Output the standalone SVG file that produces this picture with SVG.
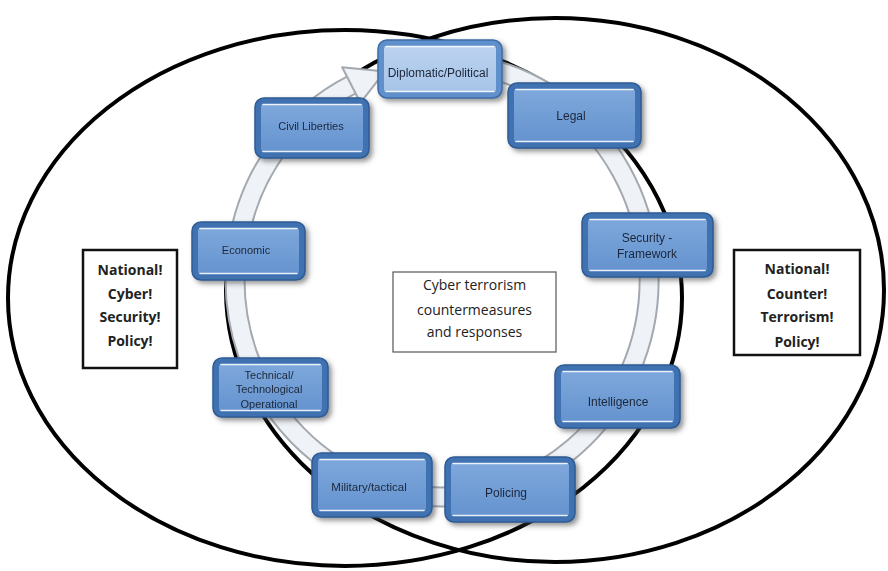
<svg xmlns="http://www.w3.org/2000/svg" width="888" height="571" viewBox="0 0 888 571">
  <defs>
    <filter id="shadow" x="-20%" y="-20%" width="140%" height="150%">
      <feDropShadow dx="3" dy="3" stdDeviation="2.5" flood-color="#404040" flood-opacity="0.55"/>
    </filter>
    <linearGradient id="panel" x1="0" y1="0" x2="0" y2="1">
      <stop offset="0" stop-color="#7ea8dc"/>
      <stop offset="1" stop-color="#6593cf"/>
    </linearGradient>
    <linearGradient id="panelLight" x1="0" y1="0" x2="0" y2="1">
      <stop offset="0" stop-color="#bcd3ef"/>
      <stop offset="1" stop-color="#a6c3e8"/>
    </linearGradient>
    <style>
      .ell { fill: none; stroke: #000; stroke-width: 4; }
      .ring-edge { fill: none; stroke: #a3a9b0; stroke-width: 21; }
      .ring-body { fill: none; stroke: #eff2f6; stroke-width: 17; }
      .frame { fill: #3f72b2; stroke: #2d5b94; stroke-width: 1.5; }
      .frame-light { fill: #5f90cb; stroke: #3d6ca6; stroke-width: 1.5; }
      .panel { fill: url(#panel); }
      .panel-light { fill: url(#panelLight); }
      .gloss { stroke: #ffffff; stroke-width: 1.6; stroke-opacity: 0.85; stroke-linecap: round; }
      .lbl { font-family: "Liberation Sans", Arial, sans-serif; fill: #1c273a; text-anchor: middle; }
      .side { fill: #fff; stroke: #111; stroke-width: 2.5; }
      .side-txt { font-family: "Open Sans", "Liberation Sans", sans-serif; font-weight: bold; font-size: 14px; fill: #222; text-anchor: middle; }
      .center-txt { font-family: "Open Sans", "Liberation Sans", sans-serif; font-size: 14px; fill: #222; text-anchor: middle; }
    </style>
  </defs>

  <rect width="888" height="571" fill="#ffffff"/>

  <!-- two overlapping policy domains -->
  <g id="domains">
    <ellipse class="ell" cx="345" cy="298" rx="337" ry="268"/>
    <ellipse class="ell" cx="555" cy="290" rx="329" ry="272"/>
  </g>

  <!-- circular cycle arrow linking the measures -->
  <g id="connectors">
    <path class="ring-edge" d="M460,63.8 A207,217 0 1 1 351.3,85"/>
    <path class="ring-body" d="M460,63.8 A207,217 0 1 1 351.3,85"/>
    <polygon points="342.2,67.2 384.9,71.4 360.4,102.8" fill="#eff2f6" stroke="#a3a9b0" stroke-width="2" stroke-linejoin="round"/>
  </g>

  <!-- measure nodes -->
  <g id="node-civil" filter="url(#shadow)">
    <rect class="frame" x="255" y="98" width="114" height="60" rx="9"/>
    <rect class="panel" x="261" y="104" width="102" height="48" rx="3"/>
    <line class="gloss" x1="263" y1="104.5" x2="361" y2="104.5"/>
    <line class="gloss" x1="263" y1="151.5" x2="361" y2="151.5"/>
    <text class="lbl" x="311" y="130" font-size="11">Civil Liberties</text>
  </g>

  <g id="node-diplomatic" filter="url(#shadow)">
    <rect class="frame-light" x="378" y="40" width="124" height="58" rx="9"/>
    <rect class="panel-light" x="384" y="46" width="112" height="46" rx="3"/>
    <line class="gloss" x1="386" y1="46.5" x2="494" y2="46.5"/>
    <line class="gloss" x1="386" y1="91.5" x2="494" y2="91.5"/>
    <text class="lbl" x="438" y="77" font-size="12">Diplomatic/Political</text>
  </g>

  <g id="node-legal" filter="url(#shadow)">
    <rect class="frame" x="508" y="83" width="133" height="65" rx="9"/>
    <rect class="panel" x="514" y="89" width="121" height="53" rx="3"/>
    <line class="gloss" x1="516" y1="89.5" x2="633" y2="89.5"/>
    <line class="gloss" x1="516" y1="141.5" x2="633" y2="141.5"/>
    <text class="lbl" x="571" y="120" font-size="12">Legal</text>
  </g>

  <g id="node-security" filter="url(#shadow)">
    <rect class="frame" x="582" y="213" width="131" height="64" rx="9"/>
    <rect class="panel" x="588" y="219" width="119" height="52" rx="3"/>
    <line class="gloss" x1="590" y1="219.5" x2="705" y2="219.5"/>
    <line class="gloss" x1="590" y1="270.5" x2="705" y2="270.5"/>
    <text class="lbl" x="647" y="242" font-size="12">Security -</text>
    <text class="lbl" x="647" y="258" font-size="12">Framework</text>
  </g>

  <g id="node-economic" filter="url(#shadow)">
    <rect class="frame" x="192" y="222" width="113" height="58" rx="9"/>
    <rect class="panel" x="198" y="228" width="101" height="46" rx="3"/>
    <line class="gloss" x1="200" y1="228.5" x2="297" y2="228.5"/>
    <line class="gloss" x1="200" y1="273.5" x2="297" y2="273.5"/>
    <text class="lbl" x="246" y="254" font-size="11">Economic</text>
  </g>

  <g id="node-technical" filter="url(#shadow)">
    <rect class="frame" x="213" y="358" width="115" height="59" rx="9"/>
    <rect class="panel" x="219" y="364" width="103" height="47" rx="3"/>
    <line class="gloss" x1="221" y1="364.5" x2="320" y2="364.5"/>
    <line class="gloss" x1="221" y1="410.5" x2="320" y2="410.5"/>
    <text class="lbl" x="269" y="379" font-size="11">Technical/</text>
    <text class="lbl" x="269" y="393" font-size="11">Technological</text>
    <text class="lbl" x="269" y="408" font-size="11">Operational</text>
  </g>

  <g id="node-intelligence" filter="url(#shadow)">
    <rect class="frame" x="555" y="365" width="125" height="63" rx="9"/>
    <rect class="panel" x="561" y="371" width="113" height="51" rx="3"/>
    <line class="gloss" x1="563" y1="371.5" x2="672" y2="371.5"/>
    <line class="gloss" x1="563" y1="421.5" x2="672" y2="421.5"/>
    <text class="lbl" x="618" y="406" font-size="12">Intelligence</text>
  </g>

  <g id="node-military" filter="url(#shadow)">
    <rect class="frame" x="312" y="453" width="120" height="64" rx="9"/>
    <rect class="panel" x="318" y="459" width="108" height="52" rx="3"/>
    <line class="gloss" x1="320" y1="459.5" x2="424" y2="459.5"/>
    <line class="gloss" x1="320" y1="510.5" x2="424" y2="510.5"/>
    <text class="lbl" x="369" y="491" font-size="11.5">Military/tactical</text>
  </g>

  <g id="node-policing" filter="url(#shadow)">
    <rect class="frame" x="445" y="457" width="130" height="65" rx="9"/>
    <rect class="panel" x="451" y="463" width="118" height="53" rx="3"/>
    <line class="gloss" x1="453" y1="463.5" x2="567" y2="463.5"/>
    <line class="gloss" x1="453" y1="515.5" x2="567" y2="515.5"/>
    <text class="lbl" x="506" y="497" font-size="12">Policing</text>
  </g>

  <!-- central theme -->
  <g id="node-center">
    <rect x="393" y="272" width="163" height="80" fill="#fff" stroke="#555" stroke-width="1.2"/>
    <text class="center-txt" x="474.5" y="290">Cyber terrorism</text>
    <text class="center-txt" x="474.5" y="315">countermeasures</text>
    <text class="center-txt" x="474.5" y="337">and responses</text>
  </g>

  <!-- domain labels -->
  <g id="node-cyber-policy">
    <rect class="side" x="83" y="250" width="94" height="118"/>
    <text class="side-txt" x="130" y="275">National!</text>
    <text class="side-txt" x="130" y="299">Cyber!</text>
    <text class="side-txt" x="130" y="322">Security!</text>
    <text class="side-txt" x="130" y="346">Policy!</text>
  </g>

  <g id="node-ct-policy">
    <rect class="side" x="734" y="250" width="126" height="105"/>
    <text class="side-txt" x="797" y="274">National!</text>
    <text class="side-txt" x="797" y="299">Counter!</text>
    <text class="side-txt" x="797" y="322">Terrorism!</text>
    <text class="side-txt" x="797" y="347">Policy!</text>
  </g>
</svg>
